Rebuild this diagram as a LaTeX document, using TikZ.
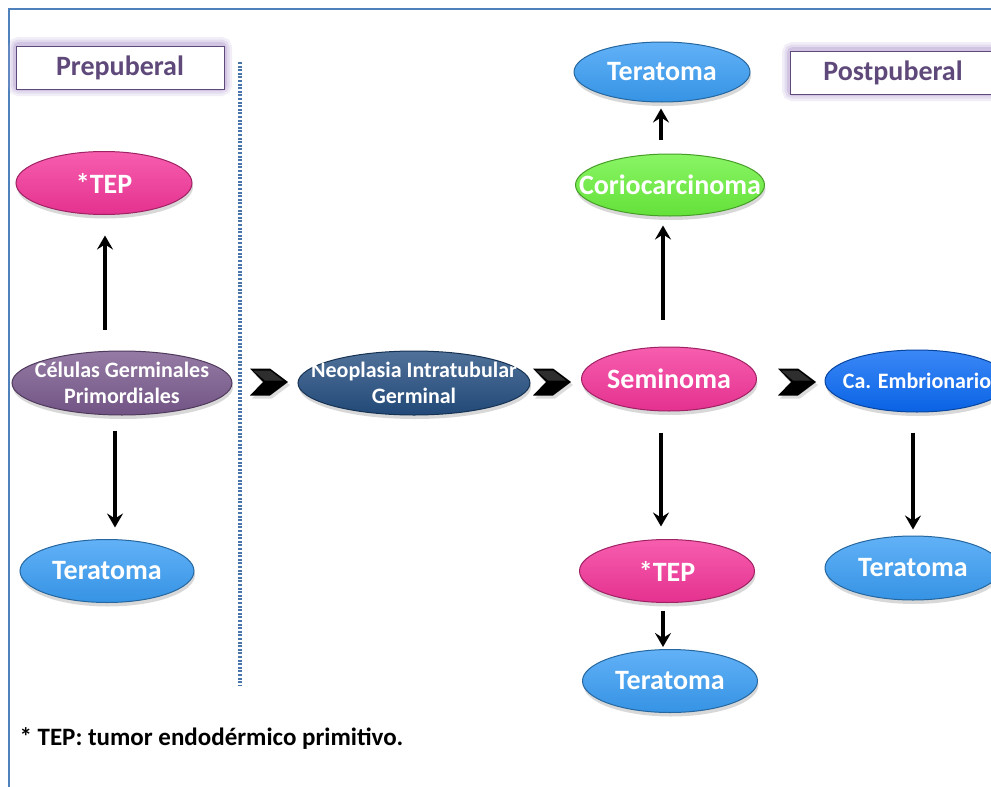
\documentclass[tikz,border=0pt]{standalone}
\usepackage{fontspec}
\setmainfont{Carlito}
\usetikzlibrary{shapes.geometric,shadows,arrows.meta}
\definecolor{framecol}{HTML}{4F81BD}
\definecolor{tagtext}{HTML}{5F497A}
\definecolor{glowcol}{HTML}{B9A6D6}
\definecolor{tepcol}{HTML}{F5359A}
\definecolor{terbcol}{HTML}{3A9EF5}
\definecolor{cgpcol}{HTML}{7A5A8E}
\definecolor{nigcol}{HTML}{244E80}
\definecolor{corcol}{HTML}{6CF23E}
\definecolor{embcol}{HTML}{0A6AF5}
\tikzset{
  oval/.style={ellipse, draw=#1!65!black, line width=1pt, inner sep=0pt,
    top color=#1!80!white, middle color=#1, bottom color=#1!93!black,
    drop shadow={shadow xshift=1pt, shadow yshift=-4pt, opacity=0.3, fill=gray}},
  ovaltext/.style={text=white, font=\bfseries\fontsize{28}{30}\selectfont, inner sep=0pt, align=center},
  smalltext/.style={ovaltext, font=\bfseries\fontsize{22}{26}\selectfont},
  tagbox/.style={draw=tagtext, line width=1pt, fill=white, text=tagtext,
    font=\bfseries\fontsize{28}{30}\selectfont, minimum height=43pt, inner sep=0pt},
  flow/.style={-{Stealth[length=14pt,width=16pt,inset=5pt]}, line width=3.4pt},
  chev/.style={fill=black}
}
\begin{document}
\begin{tikzpicture}[x=1pt,y=-1pt]
\useasboundingbox (0,0) rectangle (991,787);
\fill[white] (0,0) rectangle (991,787);
% frame
\draw[framecol, line width=1.5pt] (9,787) -- (9,9) -- (991,9);
% tag boxes with glow
\foreach \w/\o in {16/0.18,11/0.25,6/0.4}{
  \draw[glowcol, line width=\w pt, opacity=\o, rounded corners=3pt] (16,45) rectangle (224,88);
  \draw[glowcol, line width=\w pt, opacity=\o, rounded corners=3pt] (790,50) rectangle (1000,93);
}
\node[tagbox, minimum width=208pt] (pre) at (120,67.5) {Prepuberal};
\node[tagbox, minimum width=210pt] (post) at (895,72.5) {\hspace*{-4pt}Postpuberal};
% dotted divider
\coordinate (dtop) at (240,62);
\coordinate (dbot) at (240,685);
\draw[framecol!90!black, line width=3.5pt, dash pattern=on 2pt off 1.6pt] (dtop) -- (dbot);
% nodes
\node[oval=tepcol, minimum width=176pt, minimum height=63pt,
  label={[ovaltext]center:*TEP}] (tep1) at (104,183) {};
\node[oval=cgpcol, minimum width=220pt, minimum height=64pt,
  label={[smalltext]center:Células Germinales\\Primordiales}] (cgp) at (122,383) {};
\node[oval=terbcol, minimum width=174pt, minimum height=63pt,
  label={[ovaltext]center:Teratoma}] (ter1) at (107,571) {};
\node[oval=nigcol, minimum width=232pt, minimum height=64pt,
  label={[smalltext]center:Neoplasia Intratubular\\Germinal}] (nig) at (414,383) {};
\node[oval=tepcol, minimum width=175pt, minimum height=64pt,
  label={[ovaltext]center:Seminoma}] (sem) at (669,379) {};
\node[oval=embcol, minimum width=184pt, minimum height=62pt,
  label={[smalltext]center:Ca. Embrionario}] (emb) at (917,381) {};
\node[oval=corcol, minimum width=189pt, minimum height=62pt,
  label={[ovaltext]center:Coriocarcinoma}] (cor) at (670,185) {};
\node[oval=terbcol, minimum width=176pt, minimum height=60pt,
  label={[ovaltext]center:Teratoma}] (ter2) at (662,72) {};
\node[oval=tepcol, minimum width=175pt, minimum height=63pt,
  label={[ovaltext]center:*TEP}] (tep2) at (667,571) {};
\node[oval=terbcol, minimum width=175pt, minimum height=63pt,
  label={[ovaltext]center:Teratoma}] (ter3) at (670,681) {};
\node[oval=terbcol, minimum width=176pt, minimum height=64pt,
  label={[ovaltext]center:Teratoma}] (ter4) at (913,568) {};
% vertical arrows
\draw[flow] ([yshift=21pt]cgp.north -| 105,0) -- ([yshift=-20.5pt]tep1.south -| 105,0);
\draw[flow] ([yshift=-15pt]cgp.south -| 115,0) -- ([yshift=11.5pt]ter1.north -| 115,0);
\draw[flow] ([yshift=27pt]sem.north -| 663,0) -- ([yshift=-9pt]cor.south -| 663,0);
\draw[flow] ([yshift=14pt]cor.north -| 661,0) -- ([yshift=-6pt]ter2.south -| 661,0);
\draw[flow] ([yshift=-21pt]sem.south -| 661,0) -- ([yshift=12.5pt]tep2.north -| 661,0);
\draw[flow] ([yshift=-7.5pt]tep2.south -| 663,0) -- ([yshift=2pt]ter3.north -| 663,0);
\draw[flow] ([yshift=-20pt]emb.south -| 913,0) -- ([yshift=6pt]ter4.north -| 913,0);
% chevrons
\foreach \cx/\nm in {269/c1, 552/c2, 797/c3}{
  \coordinate (\nm) at (\cx,382);
  \fill[black!30, opacity=0.45] ([xshift=2pt,yshift=-3pt]\nm) ++(-19,-13.5) -- ++(20,0) -- ++(18,13.5) -- ++(-18,13.5) -- ++(-20,0) -- ++(13,-13.5) -- cycle;
  \fill[chev] (\nm) ++(-19,-13.5) -- ++(20,0) -- ++(18,13.5) -- ++(-18,13.5) -- ++(-20,0) -- ++(13,-13.5) -- cycle;
  \fill[white, opacity=0.18] (\nm) ++(-16,-11.5) -- ++(17,0) -- ++(13,10) -- ++(-18,0) -- cycle;
}
% footnote
\node[anchor=west, font=\bfseries\fontsize{25}{28}\selectfont, text=black] (foot) at (16,739) {* TEP: tumor endodérmico primitivo.};
\end{tikzpicture}
\end{document}
